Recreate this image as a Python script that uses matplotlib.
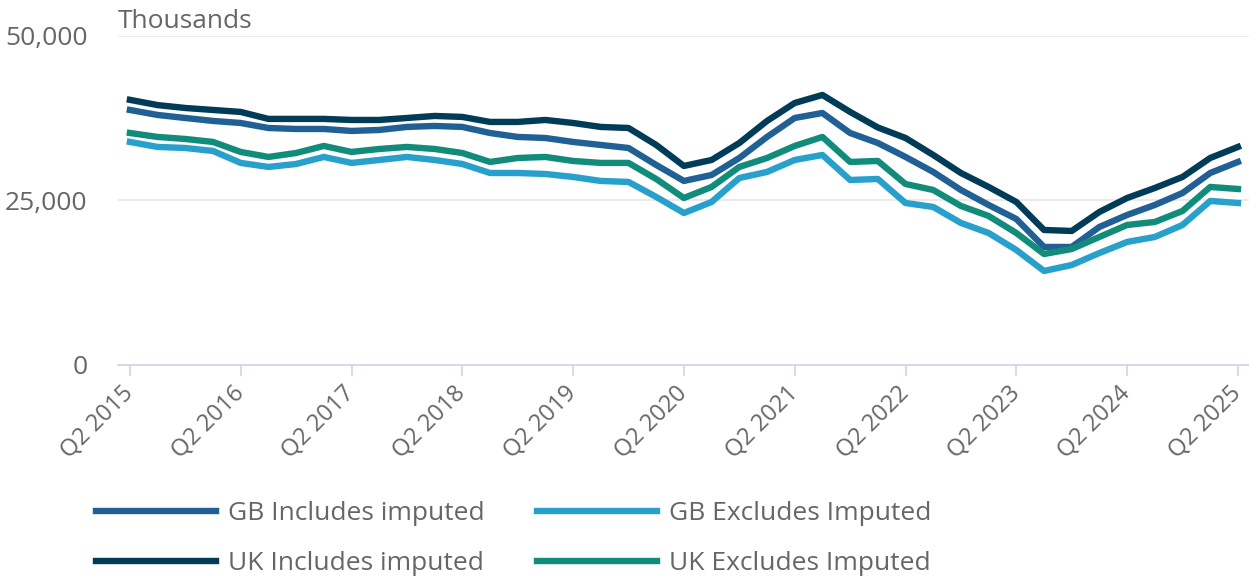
import matplotlib.pyplot as plt
import numpy as np
from matplotlib.ticker import FuncFormatter, MultipleLocator

plt.rcParams['font.family'] = ['Open Sans', 'DejaVu Sans']

# quarterly points, Q2 2015 .. Q2 2025 (41 quarters)
tick_labels = ['Q2 2015', 'Q2 2016', 'Q2 2017', 'Q2 2018', 'Q2 2019', 'Q2 2020',
               'Q2 2021', 'Q2 2022', 'Q2 2023', 'Q2 2024', 'Q2 2025']

gb_incl = [38760, 38000, 37540, 37090, 36780, 36020, 35870, 35870, 35570, 35720,
           36180, 36330, 36180, 35260, 34660, 34500, 33900, 33440, 32980, 30400,
           27970, 28880, 31460, 34660, 37540, 38300, 35260, 33740, 31620, 29340,
           26600, 24320, 22190, 17940, 17940, 20980, 22800, 24320, 26140, 29180,
           30860]
gb_excl = [33900, 33140, 32980, 32530, 30710, 30100, 30550, 31620, 30710, 31160,
           31620, 31160, 30550, 29180, 29180, 29030, 28580, 27970, 27820, 25540,
           23100, 24780, 28420, 29340, 31160, 31920, 28120, 28270, 24620, 24020,
           21590, 20060, 17480, 14290, 15200, 17020, 18700, 19460, 21280, 24930,
           24620]
uk_incl = [40300, 39500, 39060, 38760, 38460, 37400, 37400, 37400, 37240, 37240,
           37540, 37850, 37700, 36940, 36940, 37240, 36780, 36180, 36020, 33440,
           30250, 31160, 33740, 37090, 39820, 41040, 38460, 36100, 34500, 31920,
           29180, 27060, 24780, 20520, 20370, 23260, 25380, 26900, 28580, 31460,
           33140]
uk_excl = [35260, 34660, 34350, 33900, 32380, 31620, 32220, 33290, 32380, 32830,
           33140, 32830, 32220, 30860, 31460, 31620, 31010, 30710, 30710, 28270,
           25380, 27060, 30100, 31460, 33290, 34660, 30860, 31010, 27510, 26600,
           24170, 22650, 20060, 16870, 17630, 19460, 21280, 21740, 23410, 27060,
           26750]

x = np.arange(len(gb_incl))

fig = plt.figure(figsize=(12.49, 5.8), dpi=100)
ax = fig.add_axes([118 / 1249, 1 - 365 / 580, 1 - 118 / 1249, (365 - 36) / 580])

l1, = ax.plot(x, gb_incl, color='#206095', lw=4.6, label='GB Includes imputed')
l2, = ax.plot(x, gb_excl, color='#27a0cc', lw=4.6, label='GB Excludes Imputed')
l3, = ax.plot(x, uk_incl, color='#003c57', lw=4.6, label='UK Includes imputed')
l4, = ax.plot(x, uk_excl, color='#118c7b', lw=4.6, label='UK Excludes Imputed')

ax.set_ylim(0, 50000)
ax.set_xlim(-0.43, 40.4)
ax.yaxis.set_major_locator(MultipleLocator(25000))
ax.yaxis.set_major_formatter(FuncFormatter(lambda v, p: f'{int(v):,}'))
ax.grid(axis='y', color='#e6e6e6', lw=1.2)
ax.set_axisbelow(True)
for s in ['left', 'right', 'top']:
    ax.spines[s].set_visible(False)
ax.spines['bottom'].set_color('#ccd6eb')
ax.spines['bottom'].set_linewidth(1.2)

ax.set_xticks(x[::4])
ax.set_xticklabels(tick_labels, rotation=45, ha='right', va='center',
                   rotation_mode='anchor')
ax.tick_params(axis='x', length=8, width=1.2, color='#ccd6eb', labelsize=17,
               labelcolor='#666666', pad=10)
ax.tick_params(axis='y', length=0, labelsize=19, labelcolor='#666666', pad=22)

fig.text(118 / 1249, 1 - 28 / 580, 'Thousands', fontsize=19, color='#666666',
         ha='left', va='baseline')

# legend: row 1 GB, row 2 UK
fig.legend(handles=[l1, l3, l2, l4], ncol=2, loc='upper left',
           bbox_to_anchor=(72 / 1249, 1 - 477 / 580), frameon=False,
           fontsize=19, labelcolor='#666666', handlelength=4.55, handletextpad=0.45,
           columnspacing=2.0, labelspacing=0.97)

fig.savefig('out.png', dpi=100)
